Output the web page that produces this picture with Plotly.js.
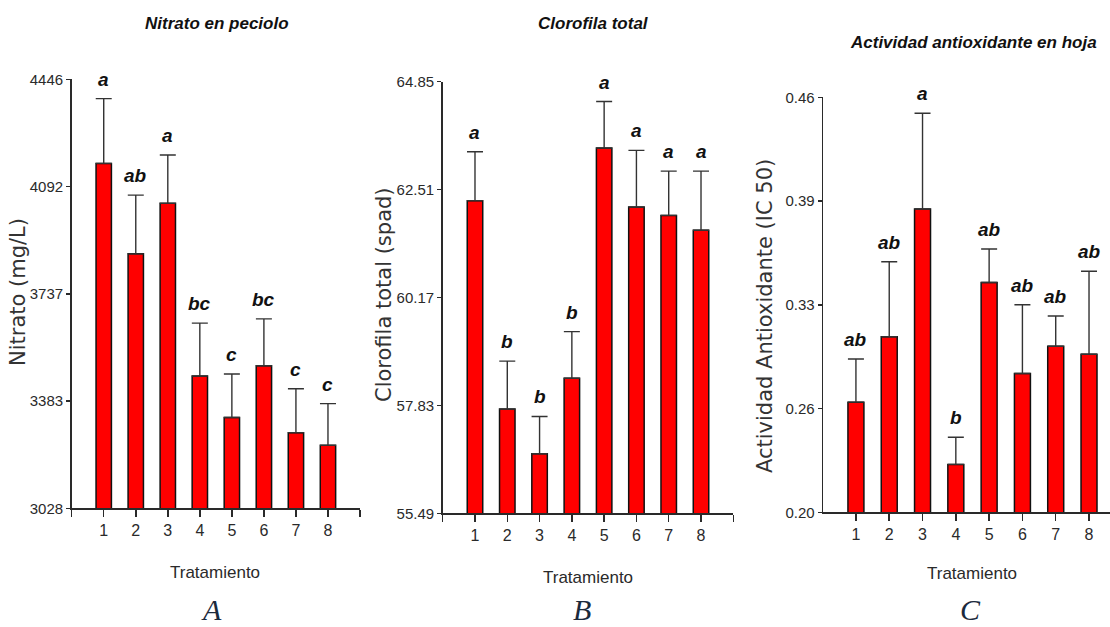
<!DOCTYPE html>
<html>
<head>
<meta charset="utf-8">
<script src="https://cdn.plot.ly/plotly-3.0.1.min.js"></script>
<style>html,body{margin:0;padding:0;background:#fff;}#chart{width:1110px;height:627px;}</style>
</head>
<body>
<div id="chart"></div>
<script>
// ---- data ----
const treatments = [1, 2, 3, 4, 5, 6, 7, 8];
const treatmentLabels = ['1', '2', '3', '4', '5', '6', '7', '8'];

const nitrato = [4168, 3869, 4036, 3465, 3328, 3499, 3278, 3236];
const nitratoErr = [214, 194, 160, 175, 144, 155, 145, 138];
const nitratoLetters = ['a', 'ab', 'a', 'bc', 'c', 'bc', 'c', 'c'];
const nitratoTicks = [3028, 3382.5, 3737, 4091.5, 4446];
const nitratoTickText = ['3028', '3383', '3737', '4092', '4446'];

const clorofila = [62.27, 57.75, 56.78, 58.42, 63.41, 62.13, 61.95, 61.63];
const clorofilaErr = [1.06, 1.04, 0.81, 1.01, 1.01, 1.23, 0.96, 1.28];
const clorofilaLetters = ['a', 'b', 'b', 'b', 'a', 'a', 'a', 'a'];
const clorofilaTicks = [55.49, 57.83, 60.17, 62.51, 64.85];
const clorofilaTickText = ['55.49', '57.83', '60.17', '62.51', '64.85'];

const antiox = [0.269, 0.310, 0.390, 0.230, 0.344, 0.287, 0.304, 0.299];
const antioxErr = [0.027, 0.047, 0.060, 0.017, 0.021, 0.043, 0.019, 0.052];
const antioxLetters = ['ab', 'ab', 'a', 'b', 'ab', 'ab', 'ab', 'ab'];
const antioxTicks = [0.20, 0.265, 0.33, 0.395, 0.46];
const antioxTickText = ['0.20', '0.26', '0.33', '0.39', '0.46'];

const titles = ['Nitrato en peciolo', 'Clorofila total', 'Actividad antioxidante en hoja'];
const yTitles = ['Nitrato (mg/L)', 'Clorofila total (spad)', 'Actividad Antioxidante (IC 50)'];
const xTitle = 'Tratamiento';
const panelLetters = ['A', 'B', 'C'];

// ---- styles ----
const W = 1110, H = 627;
const SANS = '"Liberation Sans", Arial, sans-serif';
const WIDE = '"DejaVu Sans", Verdana, sans-serif';
const SERIF = '"Liberation Serif", "DejaVu Serif", serif';
const INK = '#2a2a2a';
const px = v => v / W;
const py = v => 1 - v / H;

function barTrace(vals, errs, xa, ya) {
  return {
    type: 'bar', x: treatments, y: vals, xaxis: xa, yaxis: ya, width: 0.48,
    marker: {color: '#ff0000', line: {color: '#111', width: 1.5}},
    error_y: {type: 'data', symmetric: false, array: errs,
      arrayminus: errs.map(() => 0), color: '#333', thickness: 1.4, width: 8},
    hoverinfo: 'skip'
  };
}

const data = [
  barTrace(nitrato, nitratoErr, 'x', 'y'),
  barTrace(clorofila, clorofilaErr, 'x2', 'y2'),
  barTrace(antiox, antioxErr, 'x3', 'y3')
];

function xAxis(domain, range, withEnds, anchor) {
  const tv = withEnds ? [0].concat(treatments, [9]) : treatments;
  const tt = withEnds ? [''].concat(treatmentLabels, ['']) : treatmentLabels;
  return {
    domain: domain, range: range, anchor: anchor, tickmode: 'array', tickvals: tv, ticktext: tt,
    ticks: 'outside', ticklen: 7, tickwidth: 1.5, tickcolor: INK,
    showline: true, linecolor: INK, linewidth: 1.6, showgrid: false, zeroline: false,
    tickfont: {family: SANS, size: 16, color: INK}, fixedrange: true
  };
}
function yAxis(domain, range, tv, tt, anchor) {
  return {
    domain: domain, range: range, anchor: anchor, tickmode: 'array', tickvals: tv, ticktext: tt,
    ticks: 'outside', ticklen: 4, tickwidth: 1.5, tickcolor: INK,
    showline: true, linecolor: INK, linewidth: 1.6, showgrid: false, zeroline: false,
    tickfont: {family: SANS, size: 15, color: INK}, fixedrange: true
  };
}

const annotations = [];
function letters(vals, errs, labs, xr, yr) {
  labs.forEach((l, i) => annotations.push({
    x: treatments[i], y: vals[i] + errs[i], xref: xr, yref: yr, text: '<b><i>' + l + '</i></b>',
    showarrow: false, yanchor: 'bottom', xanchor: 'center', yshift: 7,
    font: {family: SANS, size: 19, color: '#111'}
  }));
}
letters(nitrato, nitratoErr, nitratoLetters, 'x', 'y');
letters(clorofila, clorofilaErr, clorofilaLetters, 'x2', 'y2');
letters(antiox, antioxErr, antioxLetters, 'x3', 'y3');

const titlePos = [[216.7, 24], [593, 23], [973, 42]];
const yTitlePos = [[18, 292], [384, 295], [765, 316]];
const xTitlePos = [[215, 572], [588, 577], [972, 573]];
const letterPos = [[211, 609], [582, 609], [970, 609]];
for (let k = 0; k < 3; k++) {
  annotations.push({x: px(titlePos[k][0]), y: py(titlePos[k][1]), xref: 'paper', yref: 'paper',
    text: '<b><i>' + titles[k] + '</i></b>', showarrow: false, xanchor: 'center', yanchor: 'middle',
    font: {family: SANS, size: 17, color: '#111'}});
  annotations.push({x: px(yTitlePos[k][0]), y: py(yTitlePos[k][1]), xref: 'paper', yref: 'paper',
    text: yTitles[k], textangle: -90, showarrow: false, xanchor: 'center', yanchor: 'middle',
    font: {family: WIDE, size: 21, color: '#333'}});
  annotations.push({x: px(xTitlePos[k][0]), y: py(xTitlePos[k][1]), xref: 'paper', yref: 'paper',
    text: xTitle, showarrow: false, xanchor: 'center', yanchor: 'middle',
    font: {family: SANS, size: 17, color: INK}});
  annotations.push({x: px(letterPos[k][0]), y: py(letterPos[k][1]), xref: 'paper', yref: 'paper',
    text: '<i>' + panelLetters[k] + '</i>', showarrow: false, xanchor: 'center', yanchor: 'middle',
    font: {family: SERIF, size: 30, color: '#1b2a3c'}});
}

const layout = {
  width: W, height: H, margin: {l: 0, r: 0, t: 0, b: 0},
  paper_bgcolor: '#fff', plot_bgcolor: '#fff', showlegend: false,
  xaxis: xAxis([px(71.7), px(360)], [0, 9], true, 'y'),
  yaxis: yAxis([py(508.3), py(79.3)], [3028, 4446], nitratoTicks, nitratoTickText, 'x'),
  xaxis2: xAxis([px(442.7), px(733.3)], [0, 9], true, 'y2'),
  yaxis2: yAxis([py(513.3), py(81.7)], [55.49, 64.85], clorofilaTicks, clorofilaTickText, 'x2'),
  xaxis3: xAxis([px(823.3), 1], [0.02, 8.63], false, 'y3'),
  yaxis3: yAxis([py(512.3), py(97.3)], [0.20, 0.46], antioxTicks, antioxTickText, 'x3'),
  annotations: annotations
};

Plotly.newPlot('chart', data, layout, {displayModeBar: false, staticPlot: true});
</script>
</body>
</html>
